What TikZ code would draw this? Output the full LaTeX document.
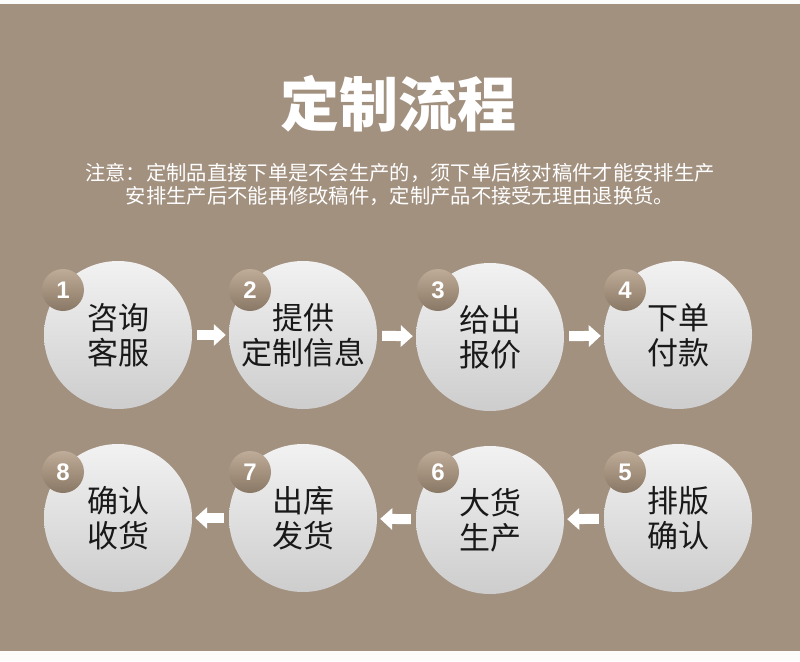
\documentclass[tikz,border=0pt]{standalone}
\usepackage{fontspec}
\setsansfont{Liberation Sans}
\newfontfamily\cjk{Noto Sans CJK SC}
\usetikzlibrary{arrows.meta}
\usepackage{xcolor}
\definecolor{fundo}{RGB}{163,145,128}
\definecolor{cinzaclaro}{RGB}{242,242,242}
\definecolor{cinzaescuro}{RGB}{205,205,205}
\definecolor{selotopo}{RGB}{190,172,152}
\definecolor{selobase}{RGB}{138,120,102}
\tikzset{
    etapa/.style={circle, minimum size=148pt, inner sep=0pt, top color=cinzaclaro, bottom color=cinzaescuro,
        text=black!90, align=center, font=\cjk\fontsize{31}{35}\selectfont},
    selo/.style={circle, minimum size=42pt, inner sep=0pt, top color=selotopo, bottom color=selobase,
        text=white, font=\sffamily\bfseries\fontsize{24}{24}\selectfont},
    seta/.style={draw=white, line width=10pt, -{Triangle[length=12pt, width=21pt]}, shorten <=5pt, shorten >=3pt}
}

\begin{document}
\begin{tikzpicture}[x=1pt, y=-1pt]
    \useasboundingbox (0,0) rectangle (800,661);
    % Fundo
    \fill[white!97!fundo] (0,0) rectangle (800,661);
    \fill[fundo] (0,4) rectangle (800,651);

    % Titulo e aviso
    \node[text=white, font=\cjk\bfseries\fontsize{59}{59}\selectfont] (titulo) at (398,104) {定制流程};
    \node[text=white, font=\cjk\fontsize{20.3}{23}\selectfont, align=center] (aviso) at (400,184)
        {注意：定制品直接下单是不会生产的，须下单后核对稿件才能安排生产\\安排生产后不能再修改稿件，定制产品不接受无理由退换货。};

    % Etapas - linha superior
    \node[etapa] (c1) at (118,335) {咨询\\客服};
    \node[etapa] (c2) at (303,335) {提供\\定制信息};
    \node[etapa] (c3) at (490,337) {给出\\报价};
    \node[etapa] (c4) at (678,335) {下单\\付款};

    % Etapas - linha inferior
    \node[etapa] (c8) at (118,518) {确认\\收货};
    \node[etapa] (c7) at (303,518) {出库\\发货};
    \node[etapa] (c6) at (490,520) {大货\\生产};
    \node[etapa] (c5) at (678,518) {排版\\确认};

    % Numeros
    \node[selo] (b1) at (63,290) {1};
    \node[selo] (b2) at (250,290) {2};
    \node[selo] (b3) at (438,290) {3};
    \node[selo] (b4) at (625,290) {4};
    \node[selo] (b5) at (625,472) {5};
    \node[selo] (b6) at (438,472) {6};
    \node[selo] (b7) at (250,472) {7};
    \node[selo] (b8) at (63,472) {8};

    % Setas
    \draw[seta] (c1) -- (c2);
    \draw[seta] (c2) -- (c3);
    \draw[seta] (c3) -- (c4);
    \draw[seta] (c5) -- (c6);
    \draw[seta] (c6) -- (c7);
    \draw[seta] (c7) -- (c8);
\end{tikzpicture}
\end{document}
